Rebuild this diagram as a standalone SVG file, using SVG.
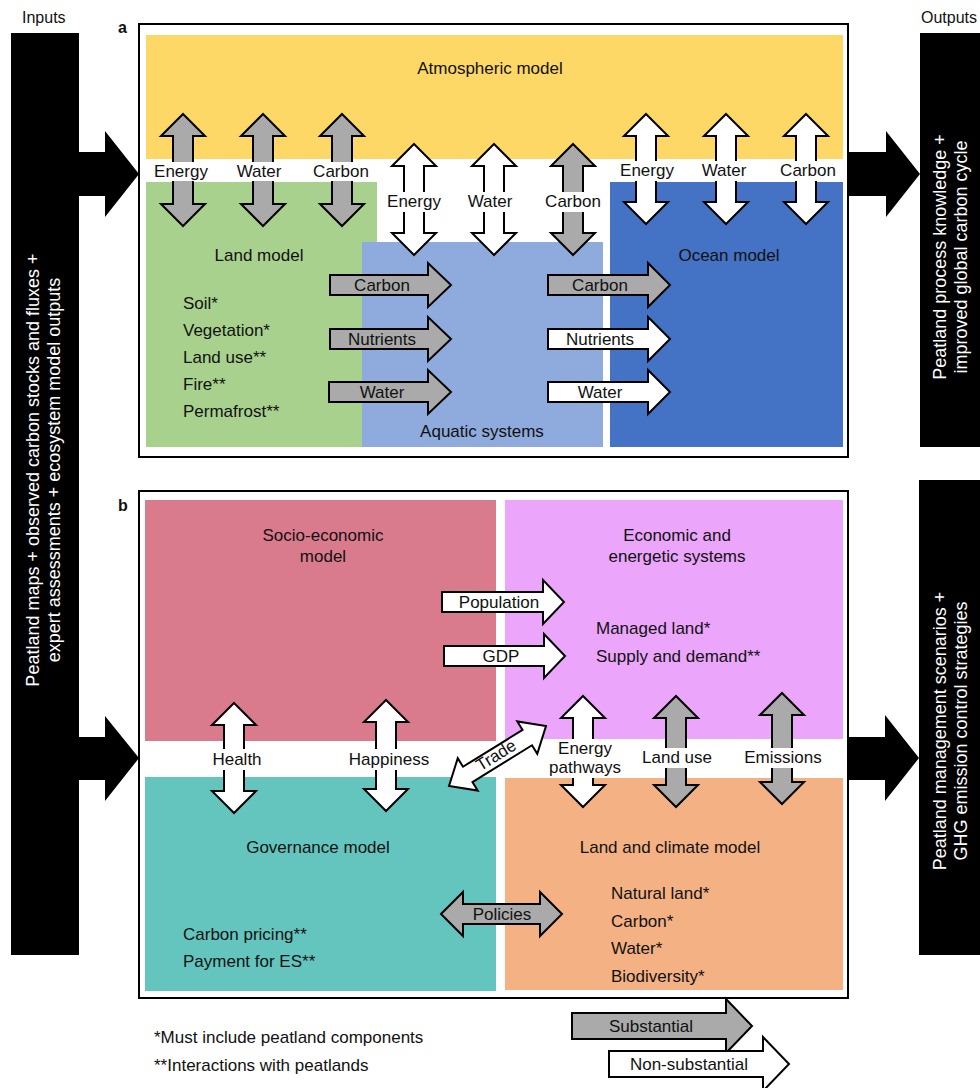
<svg xmlns="http://www.w3.org/2000/svg" width="980" height="1088" viewBox="0 0 980 1088">
<style>
text{font-family:"Liberation Sans",Arial,Helvetica,sans-serif;font-size:17px;fill:#111}
.c{text-anchor:middle}
.lbl{font-weight:bold;font-size:16px}
.io{font-size:16px}
.vt{font-size:18px;fill:#fff;text-anchor:middle}
.g{fill:#aaaaaa;stroke:#000;stroke-width:2;stroke-linejoin:miter}
.w{fill:#fff;stroke:#000;stroke-width:2;stroke-linejoin:miter}
.bk{fill:#000}
.frame{fill:#fff;stroke:#000;stroke-width:2}
.box{fill:#fff}
</style>

<g id="inputs">
  <text class="io" x="22" y="23">Inputs</text>
  <rect class="bk" x="11" y="33" width="68" height="922"/>
  <text class="vt" transform="translate(39,470) rotate(-90)">Peatland maps + observed carbon stocks and fluxes +</text>
  <text class="vt" transform="translate(60,470) rotate(-90)">expert assessments + ecosystem model outputs</text>
</g>

<g id="outputs">
  <text class="io" x="921" y="23">Outputs</text>
  <rect class="bk" x="920" y="33" width="60" height="414"/>
  <text class="vt" transform="translate(946,257) rotate(-90)">Peatland process knowledge +</text>
  <text class="vt" transform="translate(967,257) rotate(-90)">improved global carbon cycle</text>
  <rect class="bk" x="919" y="480" width="61" height="475"/>
  <text class="vt" transform="translate(946,731) rotate(-90)">Peatland management scenarios +</text>
  <text class="vt" transform="translate(967,731) rotate(-90)">GHG emission control strategies</text>
</g>

<g id="panel-a">
  <rect class="frame" x="139" y="24" width="709" height="433"/>
  <text class="lbl" x="118" y="33">a</text>
  <g id="atmospheric-model">
    <rect x="146" y="35" width="697" height="124" fill="#FDD866"/>
    <text class="c" x="490" y="74">Atmospheric model</text>
  </g>
  <g id="land-model">
    <rect x="146" y="182" width="231" height="265" fill="#A9D18E"/>
    <text class="c" x="259" y="261">Land model</text>
    <text x="183" y="309">Soil*</text>
    <text x="183" y="336">Vegetation*</text>
    <text x="183" y="363">Land use**</text>
    <text x="183" y="390">Fire**</text>
    <text x="183" y="417">Permafrost**</text>
  </g>
  <g id="aquatic-systems">
    <rect x="362" y="242" width="241" height="205" fill="#8FAADC"/>
    <text class="c" x="482" y="437">Aquatic systems</text>
  </g>
  <g id="ocean-model">
    <rect x="610" y="182" width="233" height="265" fill="#4472C4"/>
    <text class="c" x="729" y="261">Ocean model</text>
  </g>
</g>

<g id="panel-b">
  <rect class="frame" x="139" y="491" width="709" height="507"/>
  <text class="lbl" x="118" y="511">b</text>
  <g id="socio-economic-model">
    <rect x="145" y="500" width="351" height="241" fill="#DA7B8D"/>
    <text class="c" x="323" y="541">Socio-economic</text>
    <text class="c" x="323" y="562">model</text>
  </g>
  <g id="economic-energetic-systems">
    <rect x="505" y="500" width="338" height="239" fill="#EBA6FB"/>
    <text class="c" x="677" y="541">Economic and</text>
    <text class="c" x="677" y="562">energetic systems</text>
    <text x="596" y="634">Managed land*</text>
    <text x="596" y="662">Supply and demand**</text>
  </g>
  <g id="governance-model">
    <rect x="145" y="777" width="351" height="214" fill="#64C5BE"/>
    <text class="c" x="318" y="853">Governance model</text>
    <text x="183" y="940">Carbon pricing**</text>
    <text x="183" y="967">Payment for ES**</text>
  </g>
  <g id="land-climate-model">
    <rect x="505" y="778" width="338" height="212" fill="#F4B183"/>
    <text class="c" x="670" y="853">Land and climate model</text>
    <text x="611" y="899">Natural land*</text>
    <text x="611" y="927">Carbon*</text>
    <text x="611" y="954">Water*</text>
    <text x="611" y="982">Biodiversity*</text>
  </g>
</g>

<g id="connectors">
  <!-- big input / output arrows -->
  <path class="bk" d="M79,152 L105,152 L105,131 L139,174 L105,217 L105,196 L79,196 Z"/>
  <path class="bk" d="M79,737 L105,737 L105,716 L139,758 L105,801 L105,780 L79,780 Z"/>
  <path class="bk" d="M849,152 L886,152 L886,131 L920,174 L886,217 L886,196 L849,196 Z"/>
  <path class="bk" d="M849,737 L885,737 L885,715 L919,758 L885,801 L885,780 L849,780 Z"/>

  <!-- panel a: land <-> atmosphere -->
  <path class="g" d="M183,114 L205,136 L193,136 L193,204 L205,204 L183,226 L161,204 L173,204 L173,136 L161,136 Z"/>
  <path class="g" d="M263,114 L285,136 L273,136 L273,204 L285,204 L263,226 L241,204 L253,204 L253,136 L241,136 Z"/>
  <path class="g" d="M342,114 L364,136 L352,136 L352,204 L364,204 L342,226 L320,204 L332,204 L332,136 L320,136 Z"/>
  <rect class="box" x="155" y="162" width="56" height="19"/>
  <rect class="box" x="236" y="162" width="47" height="19"/>
  <rect class="box" x="314" y="162" width="54" height="19"/>
  <text class="c" x="181" y="177">Energy</text>
  <text class="c" x="259" y="177">Water</text>
  <text class="c" x="341" y="177">Carbon</text>

  <!-- panel a: aquatic <-> atmosphere -->
  <path class="w" d="M414,144 L436,166 L424,166 L424,233 L436,233 L414,255 L392,233 L404,233 L404,166 L392,166 Z"/>
  <path class="w" d="M494,144 L516,166 L504,166 L504,233 L516,233 L494,255 L472,233 L484,233 L484,166 L472,166 Z"/>
  <path class="g" d="M573,144 L595,166 L583,166 L583,233 L595,233 L573,255 L551,233 L563,233 L563,166 L551,166 Z"/>
  <rect class="box" x="386" y="192" width="56" height="20"/>
  <rect class="box" x="467" y="192" width="47" height="20"/>
  <rect class="box" x="546" y="192" width="54" height="20"/>
  <text class="c" x="414" y="207">Energy</text>
  <text class="c" x="490" y="207">Water</text>
  <text class="c" x="573" y="207">Carbon</text>

  <!-- panel a: ocean <-> atmosphere -->
  <path class="w" d="M646,114 L668,136 L656,136 L656,202 L668,202 L646,224 L624,202 L636,202 L636,136 L624,136 Z"/>
  <path class="w" d="M726,114 L748,136 L736,136 L736,202 L748,202 L726,224 L704,202 L716,202 L716,136 L704,136 Z"/>
  <path class="w" d="M806,114 L828,136 L816,136 L816,202 L828,202 L806,224 L784,202 L796,202 L796,136 L784,136 Z"/>
  <rect class="box" x="619" y="161" width="56" height="20"/>
  <rect class="box" x="701" y="161" width="47" height="20"/>
  <rect class="box" x="781" y="161" width="54" height="20"/>
  <text class="c" x="647" y="176">Energy</text>
  <text class="c" x="724" y="176">Water</text>
  <text class="c" x="808" y="176">Carbon</text>

  <!-- panel a: land -> aquatic -->
  <path class="g" d="M330,275 L428,275 L428,263 L451,285 L428,307 L428,295 L330,295 Z"/>
  <path class="g" d="M330,329 L428,329 L428,317 L451,339 L428,361 L428,349 L330,349 Z"/>
  <path class="g" d="M329,382 L428,382 L428,370 L451,392 L428,414 L428,402 L329,402 Z"/>
  <text class="c" x="382" y="291">Carbon</text>
  <text class="c" x="382" y="345">Nutrients</text>
  <text class="c" x="382" y="398">Water</text>

  <!-- panel a: aquatic -> ocean -->
  <path class="g" d="M548,275 L648,275 L648,263 L670,285 L648,307 L648,295 L548,295 Z"/>
  <path class="w" d="M548,329 L648,329 L648,317 L670,339 L648,361 L648,349 L548,349 Z"/>
  <path class="w" d="M548,382 L648,382 L648,370 L670,392 L648,414 L648,402 L548,402 Z"/>
  <text class="c" x="600" y="291">Carbon</text>
  <text class="c" x="600" y="345">Nutrients</text>
  <text class="c" x="600" y="398">Water</text>

  <!-- panel b: socio-economic -> economic -->
  <path class="w" d="M442,592 L543,592 L543,580 L564,602 L543,624 L543,612 L442,612 Z"/>
  <path class="w" d="M444,646 L544,646 L544,634 L565,656 L544,678 L544,666 L444,666 Z"/>
  <text class="c" x="499" y="608">Population</text>
  <text class="c" x="501" y="662">GDP</text>

  <!-- panel b: socio-economic <-> governance -->
  <path class="w" d="M234,703 L256,725 L244,725 L244,791 L256,791 L234,813 L212,791 L224,791 L224,725 L212,725 Z"/>
  <path class="w" d="M386,700 L408,722 L396,722 L396,789 L408,789 L386,811 L364,789 L376,789 L376,722 L364,722 Z"/>
  <rect class="box" x="210" y="749" width="54" height="21"/>
  <rect class="box" x="348" y="749" width="82" height="21"/>
  <text class="c" x="237" y="765">Health</text>
  <text class="c" x="389" y="765">Happiness</text>

  <!-- panel b: trade -->
  <path class="w" transform="translate(497.5,756) rotate(-31.7)" d="M-57,0 L-35,-19 L-35,-9 L35,-9 L35,-19 L57,0 L35,19 L35,9 L-35,9 L-35,19 Z"/>
  <text class="c" transform="translate(499,760) rotate(-31.7)">Trade</text>

  <!-- panel b: economic <-> land and climate -->
  <path class="w" d="M583,696 L605,718 L593,718 L593,785 L605,785 L583,807 L561,785 L573,785 L573,718 L561,718 Z"/>
  <path class="g" d="M676,696 L698,718 L686,718 L686,785 L698,785 L676,807 L654,785 L666,785 L666,718 L654,718 Z"/>
  <path class="g" d="M782,693 L804,715 L792,715 L792,782 L804,782 L782,804 L760,782 L772,782 L772,715 L760,715 Z"/>
  <rect class="box" x="548" y="739" width="74" height="39"/>
  <rect class="box" x="641" y="748" width="72" height="20"/>
  <rect class="box" x="743" y="748" width="80" height="20"/>
  <text class="c" x="585" y="754">Energy</text>
  <text class="c" x="585" y="773">pathways</text>
  <text class="c" x="677" y="763">Land use</text>
  <text class="c" x="783" y="763">Emissions</text>

  <!-- panel b: governance <-> land and climate -->
  <path class="g" d="M441,914 L463,892 L463,904 L540,904 L540,892 L562,914 L540,936 L540,924 L463,924 L463,936 Z"/>
  <text class="c" x="502" y="920">Policies</text>
</g>

<g id="legend">
  <text x="154" y="1043">*Must include peatland components</text>
  <text x="154" y="1071">**Interactions with peatlands</text>
  <path class="g" d="M572,1013 L726,1013 L726,999 L752,1026 L726,1053 L726,1039 L572,1039 Z"/>
  <text class="c" x="651" y="1032">Substantial</text>
  <path class="w" d="M609,1051 L763,1051 L763,1037 L789,1064 L763,1091 L763,1077 L609,1077 Z"/>
  <text class="c" x="689" y="1070">Non-substantial</text>
</g>
</svg>
